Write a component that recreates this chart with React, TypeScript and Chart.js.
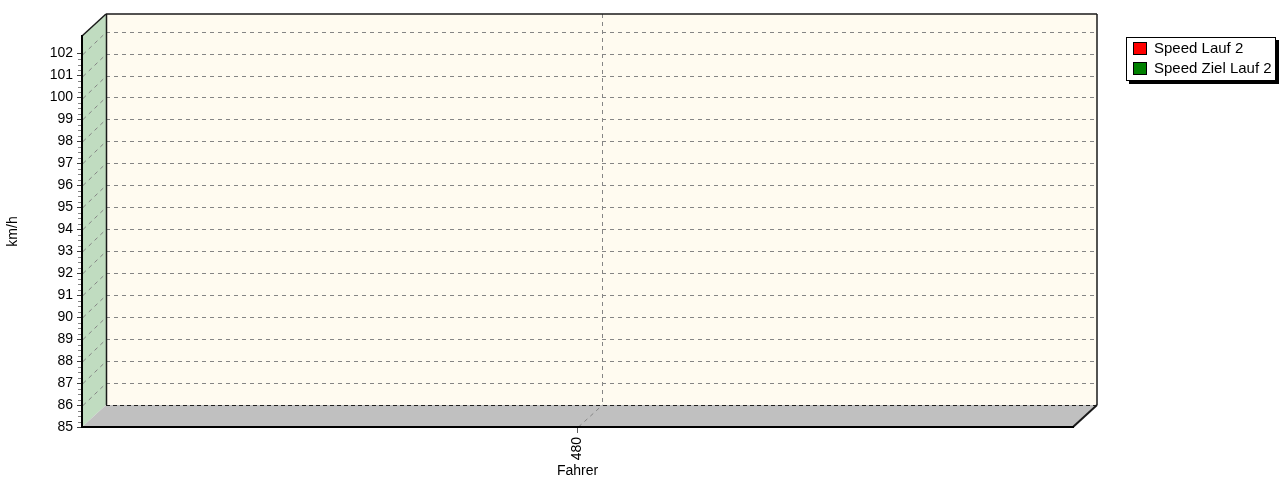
import React, { useEffect, useRef } from 'react';
import { Chart, registerables } from 'chart.js';

Chart.register(...registerables);

// ---- data ----
const categories: string[] = ['480'];
const speedLauf2: (number | null)[] = [null];
const speedZielLauf2: (number | null)[] = [null];
const seriesNames: string[] = ['Speed Lauf 2', 'Speed Ziel Lauf 2'];
const seriesColors: string[] = ['#FF0000', '#008000'];
const yMin = 85;
const yMax = 102.8;
const yStep = 1;
const yTitle = 'km/h';
const xTitle = 'Fahrer';

// ---- style ----
const FONT = '"Liberation Sans", Arial, sans-serif';
const DX = 24;
const DY = 22;
const BACK_COLOR = '#FFFBF0';
const LEFT_WALL_COLOR = '#C0DCC0';
const FLOOR_COLOR = '#C0C0C0';
const GRID_COLOR = '#858585';

const walls3d = {
  id: 'walls3d',
  beforeDraw(chart: any) {
    const { ctx, chartArea: a, scales } = chart;
    const ys = scales.y;
    const xs = scales.x;
    const L = a.left, R = a.right, T = a.top, B = a.bottom;
    const line = (x1: number, y1: number, x2: number, y2: number) => {
      ctx.beginPath();
      ctx.moveTo(x1, y1);
      ctx.lineTo(x2, y2);
      ctx.stroke();
    };
    const poly = (pts: number[][], color: string) => {
      ctx.beginPath();
      ctx.moveTo(pts[0][0], pts[0][1]);
      for (let i = 1; i < pts.length; i++) ctx.lineTo(pts[i][0], pts[i][1]);
      ctx.closePath();
      ctx.fillStyle = color;
      ctx.fill();
    };
    ctx.save();
    // back wall
    ctx.fillStyle = BACK_COLOR;
    ctx.fillRect(L + DX, T - DY, R - L, B - T);
    // left wall
    poly([[L, T], [L + DX, T - DY], [L + DX, B - DY], [L, B]], LEFT_WALL_COLOR);
    // floor
    poly([[L, B], [R, B], [R + DX, B - DY], [L + DX, B - DY]], FLOOR_COLOR);

    // grid lines
    ctx.setLineDash([4, 4]);
    ctx.lineWidth = 1;
    ctx.strokeStyle = GRID_COLOR;
    ys.ticks.forEach((t: any) => {
      if (t.value === yMin) return;
      const py = Math.round(ys.getPixelForValue(t.value)) + 0.5;
      line(L + DX, py - DY, R + DX, py - DY);
      line(L + 1, py, L + DX, py - DY);
    });
    xs.ticks.forEach((_t: any, i: number) => {
      const px = Math.round(xs.getPixelForTick(i)) + 0.5;
      line(px + DX, T - DY, px + DX, B - DY);
      line(px, B, px + DX, B - DY);
    });
    // floor back edge (dashed dark)
    ctx.strokeStyle = '#202020';
    ctx.setLineDash([4, 3]);
    line(L + DX, B - DY + 0.5, R + DX, B - DY + 0.5);
    ctx.setLineDash([]);

    // outlines
    ctx.strokeStyle = '#1a1a1a';
    ctx.lineWidth = 1.5;
    line(L + DX, T - DY, R + DX, T - DY);
    line(L + DX + 0.5, T - DY, L + DX + 0.5, B - DY);
    line(R + DX, T - DY, R + DX, B - DY);
    line(L, T, L + DX, T - DY);
    ctx.lineWidth = 2;
    line(R, B, R + DX, B - DY);
    ctx.restore();
  },
  afterDraw(chart: any) {
    const { ctx, chartArea: a, scales } = chart;
    const ys = scales.y;
    const L = a.left, R = a.right, T = a.top;
    ctx.save();
    // minor ticks (3 per major interval)
    ctx.strokeStyle = GRID_COLOR;
    ctx.lineWidth = 1;
    const vals = ys.ticks.map((t: any) => t.value);
    for (let i = 0; i < vals.length - 1; i++) {
      for (let k = 1; k <= 3; k++) {
        const v = vals[i] + (k * (vals[i + 1] - vals[i])) / 4;
        const py = Math.round(ys.getPixelForValue(v)) + 0.5;
        ctx.beginPath();
        ctx.moveTo(L - 4, py);
        ctx.lineTo(L - 1, py);
        ctx.stroke();
      }
    }

    // legend
    const ds = chart.data.datasets;
    ctx.font = '15px ' + FONT;
    const maxW = Math.max(...ds.map((d: any) => ctx.measureText(d.label).width));
    const rowH = 20;
    const bx = R + DX + 29;
    const by = T + 1;
    const bw = Math.round(28 + maxW + 4);
    const bh = ds.length * rowH + 4;
    ctx.fillStyle = '#000';
    ctx.fillRect(bx + 3, by + 3, bw, bh);
    ctx.fillStyle = '#fff';
    ctx.fillRect(bx, by, bw, bh);
    ctx.strokeStyle = '#000';
    ctx.lineWidth = 1;
    ctx.strokeRect(bx + 0.5, by + 0.5, bw - 1, bh - 1);
    ds.forEach((d: any, i: number) => {
      const sy = by + 5 + i * rowH;
      ctx.fillStyle = d.backgroundColor;
      ctx.fillRect(bx + 7, sy, 14, 13);
      ctx.strokeStyle = '#000';
      ctx.strokeRect(bx + 7.5, sy + 0.5, 13, 12);
      ctx.fillStyle = '#000';
      ctx.textBaseline = 'middle';
      ctx.textAlign = 'left';
      ctx.fillText(d.label, bx + 28, sy + 7);
    });
    ctx.restore();
  },
};

export default function App() {
  const ref = useRef<HTMLCanvasElement>(null);
  useEffect(() => {
    document.body.style.margin = '0';
    if (!ref.current) return;
    const chart = new Chart(ref.current, {
      type: 'bar',
      data: {
        labels: categories,
        datasets: [
          { label: seriesNames[0], data: speedLauf2, backgroundColor: seriesColors[0] },
          { label: seriesNames[1], data: speedZielLauf2, backgroundColor: seriesColors[1] },
        ],
      },
      options: {
        responsive: false,
        animation: false,
        devicePixelRatio: 1,
        layout: { padding: { left: 0, right: 206, top: 36, bottom: 0 } },
        plugins: { legend: { display: false }, tooltip: { enabled: false } },
        scales: {
          x: {
            type: 'category',
            offset: true,
            afterFit: (s: any) => { s.height = 53; },
            grid: { drawOnChartArea: false, offset: false, tickLength: 6, color: '#606060' },
            border: { color: '#000', width: 2 },
            ticks: { color: '#000', font: { family: FONT, size: 14 }, minRotation: 90, maxRotation: 90, padding: 4 },
            title: { display: true, text: xTitle, color: '#000', font: { family: FONT, size: 14 }, padding: 0 },
          },
          y: {
            type: 'linear',
            min: yMin,
            max: yMax,
            bounds: 'data',
            afterFit: (s: any) => { s.width = 82; },
            grid: { drawOnChartArea: false, tickLength: 5, color: '#404040' },
            border: { color: '#000', width: 2 },
            ticks: { stepSize: yStep, includeBounds: false, color: '#000', font: { family: FONT, size: 14 }, padding: 4 },
            title: { display: true, text: yTitle, color: '#000', font: { family: FONT, size: 14 }, padding: 5 },
          },
        },
      },
      plugins: [walls3d],
    } as any);
    return () => chart.destroy();
  }, []);
  return (
    <div style={{ width: 1279, height: 480 }}>
      <canvas ref={ref} width={1279} height={480} style={{ display: 'block' }} />
    </div>
  );
}
